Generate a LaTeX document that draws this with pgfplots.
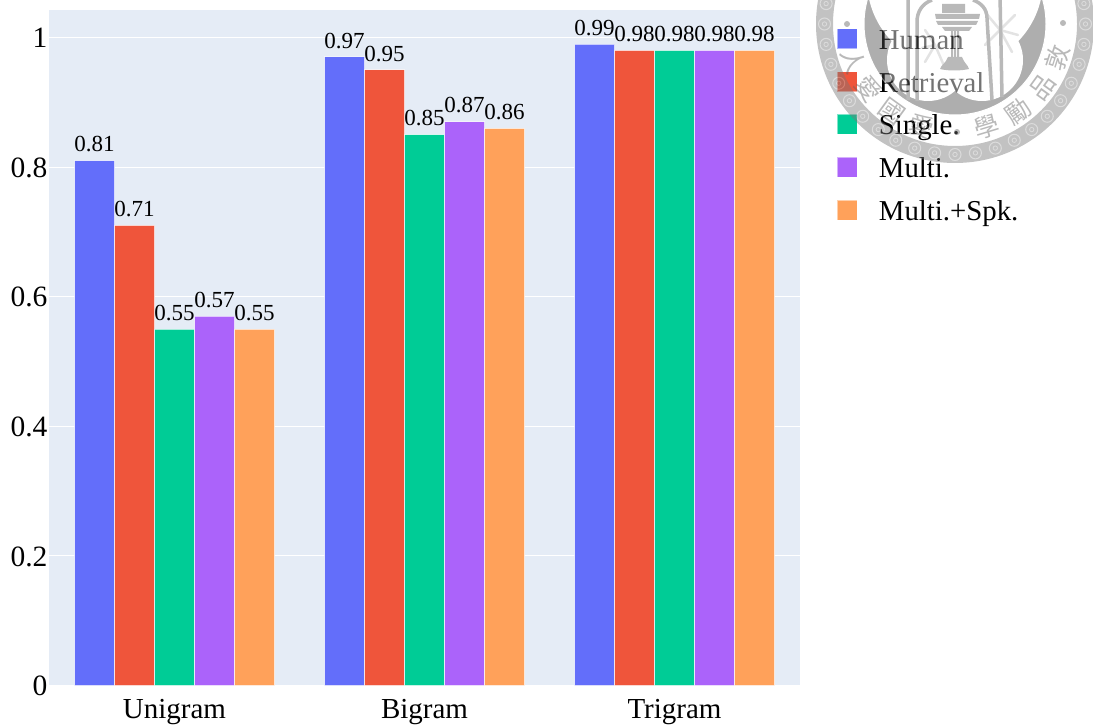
\documentclass[border=0pt]{standalone}
\usepackage{pgfplots}
\usepackage{fontspec}
\pgfplotsset{compat=1.18}
\setmainfont{Liberation Serif}
\newfontfamily\cjk{Noto Sans CJK TC}
\definecolor{cHuman}{HTML}{636EFA}
\definecolor{cRetrieval}{HTML}{EF553B}
\definecolor{cSingle}{HTML}{00CC96}
\definecolor{cMulti}{HTML}{AB63FA}
\definecolor{cSpk}{HTML}{FFA15A}
\definecolor{plotbg}{HTML}{E5ECF6}
\definecolor{sealdark}{HTML}{4B4B4B}
\definecolor{sealband}{HTML}{787878}
\definecolor{sealswirl}{HTML}{B0B0B0}
\definecolor{sealline}{HTML}{636363}
\newcommand{\swatch}[1]{\fill[#1,draw=white,draw opacity=.5,line width=.8pt] (0pt,-6pt) rectangle (20pt,14pt);}
\begin{document}
\begin{tikzpicture}[x=1pt,y=1pt]
\path[use as bounding box] (0,0) rectangle (1093,724);
\begin{axis}[
  at={(49.5pt,38.5pt)}, anchor=south west,
  scale only axis, width=750pt, height=675.5pt,
  xmin=-0.5, xmax=2.5, ymin=0, ymax=1.0425,
  axis background/.style={fill=plotbg},
  axis line style={draw=none},
  major tick length=0pt,
  xtick={0,1,2}, xticklabels={Unigram,Bigram,Trigram},
  ytick={0,0.2,0.4,0.6,0.8,1},
  yticklabels={0,0.2,0.4,0.6,0.8,1},
  ymajorgrids, grid style={white,line width=1pt},
  tick label style={font=\fontsize{29.5}{32}\selectfont},
  xticklabel style={yshift=-10pt,font=\fontsize{29}{32}\selectfont},
  yticklabel style={xshift=1.5pt,yshift=-0.5pt},
  ybar, bar width=0.16,
  clip=false,
  every axis plot/.append style={draw=white,draw opacity=.65,line width=1pt},
  nodes near coords,
  /pgf/number format/assume math mode=true,
  nodes near coords style={
    font=\fontsize{23}{26}\selectfont, text=black, opacity=1, draw opacity=0,
    /pgf/number format/fixed, /pgf/number format/fixed zerofill,
    /pgf/number format/precision=2, /pgf/number format/assume math mode=true,
    anchor=south, inner sep=0pt, yshift=8pt},
  legend cell align=left,
  legend style={
    at={(1.05,0.973)}, anchor=north west, draw=none, fill=none,
    font=\fontsize{28.8}{32}\selectfont, inner sep=0pt, outer sep=0pt,
    column sep=0pt, row sep=15pt,
    nodes={inner sep=0pt, text height=20pt, text depth=7pt}},
]
\addplot[fill=cHuman, bar shift=-0.32,
  legend image code/.code={\swatch{cHuman}\path (41pt,0pt);}]
  coordinates {(0,0.81) (1,0.97) (2,0.99)};
\addlegendentry{Human}
\addplot[fill=cRetrieval, bar shift=-0.16,
  legend image code/.code={\swatch{cRetrieval}\path (41pt,0pt);}]
  coordinates {(0,0.71) (1,0.95) (2,0.98)};
\addlegendentry{Retrieval}
\addplot[fill=cSingle, bar shift=0,
  legend image code/.code={\swatch{cSingle}\path (41pt,0pt);}]
  coordinates {(0,0.55) (1,0.85) (2,0.98)};
\addlegendentry{Single.}
\addplot[fill=cMulti, bar shift=0.16,
  legend image code/.code={\swatch{cMulti}\path (41pt,0pt);}]
  coordinates {(0,0.57) (1,0.87) (2,0.98)};
\addlegendentry{Multi.}
\addplot[fill=cSpk, bar shift=0.32,
  legend image code/.code={\swatch{cSpk}\path (41pt,0pt);}]
  coordinates {(0,0.55) (1,0.86) (2,0.98)};
\addlegendentry{Multi.+Spk.}
\end{axis}
% University seal laid over the corner of the page
\begin{scope}
\clip (0,0) rectangle (1093,724);
\begin{scope}[transparency group, opacity=0.45, yshift=724pt, y=-1pt]
  % patterned outer band
  \fill[sealband,even odd rule] (955,24) circle (139) (955,24) circle (122);
  \foreach \a in {0,9,...,351}{
    \draw[sealswirl,line width=1pt] ({955+130.5*cos(\a)},{24+130.5*sin(\a)}) circle (6);
    \draw[sealswirl,line width=.8pt] ({955+130.5*cos(\a)},{24+130.5*sin(\a)}) circle (2.2);
  }
  % inner medallion with its lobed opening
  \fill[sealdark] (955,24) circle (91);
  \fill[white] (955,-20) circle (88);
  \fill[white] (982,60) circle (41);
  \fill[white] (928,60) circle (41);
  \draw[white,line width=1pt] (955,24) circle (91);
  % palm fronds
  \draw[black!24,line width=2.5pt,line cap=round]
    (935,45) -- (925,30) (935,45) -- (922,48) (935,45) -- (925,62)
    (935,45) -- (945,68) (1000,30) -- (1015,15) (1000,30) -- (1018,35)
    (1000,30) -- (1012,52) (1000,30) -- (985,12) (1000,30) -- (985,45);
  % posts and arches of the bell tower
  \draw[sealline,line width=3.5pt] (908,-5) -- (908,100) (1000,-5) -- (1002,97);
  \draw[sealline,line width=3.5pt] (917,101) -- (917,22) to[out=90,in=200] (932,0);
  \draw[sealline,line width=3.5pt] (992,100) -- (987,18) to[out=90,in=-20] (973,0);
  % bell and clapper
  \fill[sealline] (942,4) rectangle (965,13);
  \fill[sealline] (935,14) -- (980,14) -- (979,19) -- (936,19) -- cycle;
  \fill[sealline] (936,21) -- (978,21) -- (976,25) -- (938,25) -- cycle;
  \fill[sealline] (942,27) -- (972,27) -- (969,31) -- (945,31) -- cycle;
  \draw[sealline,line width=2pt] (952,31) -- (952,57) (958,31) -- (958,57) (955,31) -- (955,57);
  \fill[sealline] (948,57) -- (962,57) .. controls (964,63) and (968,65) .. (969,69)
     .. controls (960,71) and (948,71) .. (940,69) .. controls (941,65) and (946,63) .. (948,57) -- cycle;
  % ornaments and motto
  \fill[sealline] (847,24) circle (3);
  \fill[sealline] (1063,23) circle (3);
  \fill[sealline] (957,132) circle (3);
  \foreach \a/\c in {-18/敦,-36/品,-54/勵,-73/學,200/人,217/愛,234/國,252/愛}{
    \node[text=sealline,inner sep=0pt,rotate=\a+90,font=\cjk\fontsize{25}{25}\selectfont]
      at ({955+108*cos(\a)},{24-108*sin(\a)}) {\c};
  }
\end{scope}
\end{scope}
\end{tikzpicture}
\end{document}
